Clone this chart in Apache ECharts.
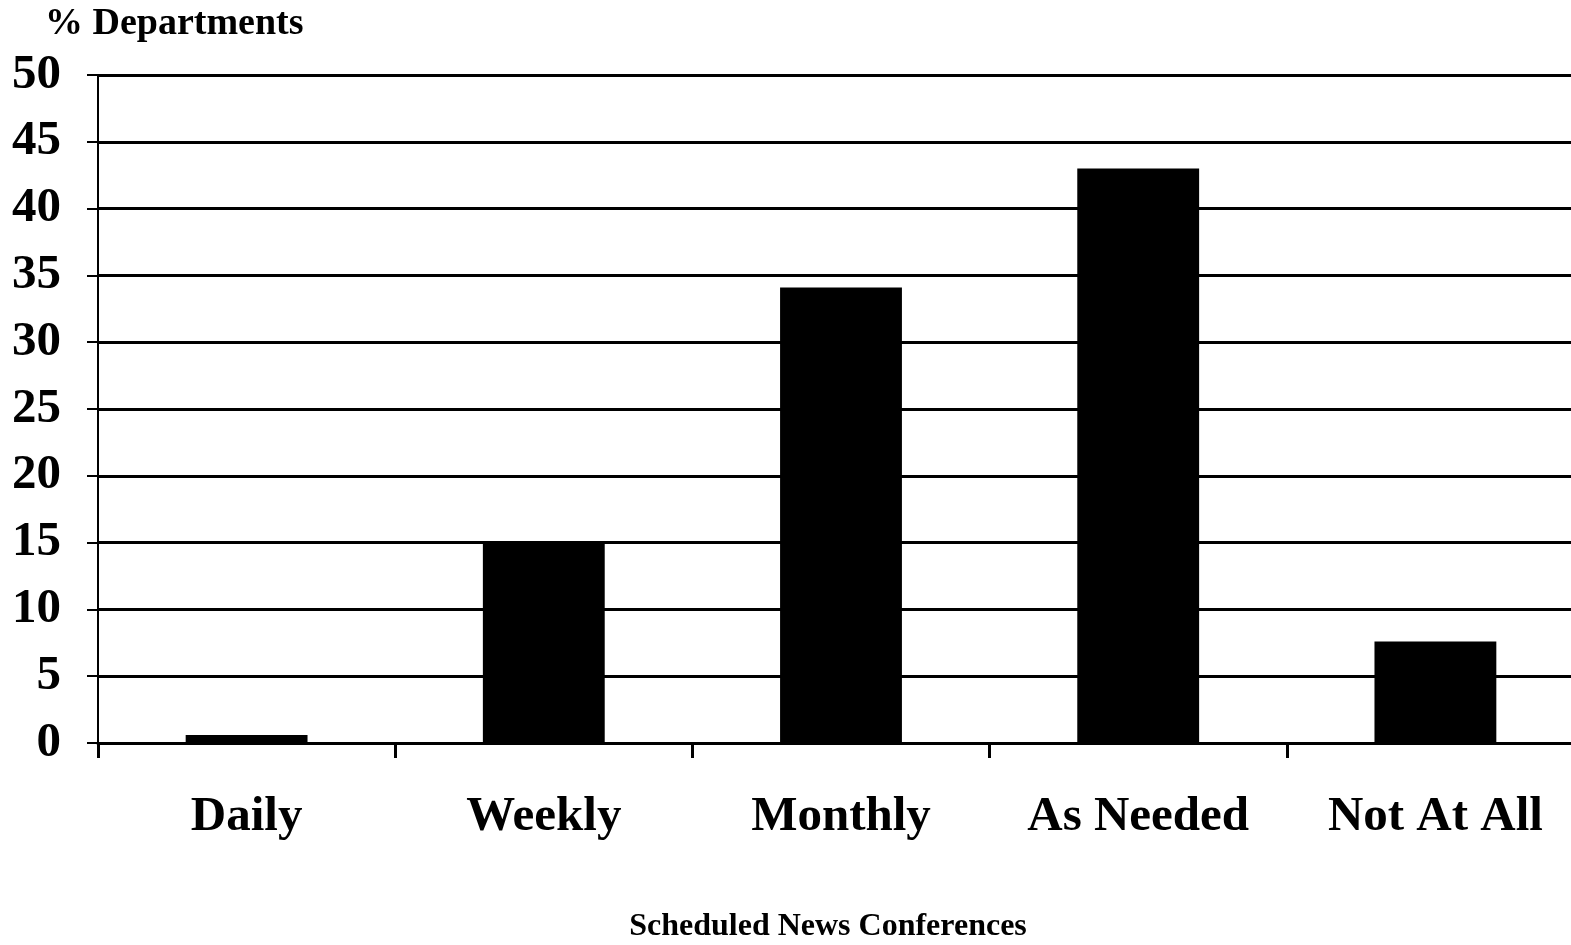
<!DOCTYPE html>
<html>
<head>
<meta charset="utf-8">
<script src="https://cdn.jsdelivr.net/npm/echarts@6/dist/echarts.min.js"></script>
<style>html,body{margin:0;padding:0;background:#fff;overflow:hidden;}#c{width:1571px;height:945px;}</style>
</head>
<body>
<div id="c"></div>
<script>
const categories = ['Daily', 'Weekly', 'Monthly', 'As Needed', 'Not At All'];
const values = [0.6, 15.0, 34.1, 43.0, 7.6];
const yTicks = [0, 5, 10, 15, 20, 25, 30, 35, 40, 45, 50];
const yTitle = '% Departments';
const xTitle = 'Scheduled News Conferences';

const font = '"Liberation Serif", "Times New Roman", serif';
const chart = echarts.init(document.getElementById('c'), null, {renderer: 'canvas'});
chart.setOption({
  backgroundColor: '#fff',
  animation: false,
  title: [
    {text: yTitle, left: 40, top: 0, textStyle: {fontFamily: font, fontWeight: 'bold', fontSize: 38, color: '#000'}},
    {text: xTitle, left: 823, top: 906, textAlign: 'center', textStyle: {fontFamily: font, fontWeight: 'bold', fontSize: 32, color: '#000'}}
  ],
  grid: {left: 98, top: 75, width: 1486, height: 668, containLabel: false, outerBoundsMode: 'none'},
  xAxis: {
    type: 'category',
    data: categories,
    boundaryGap: true,
    axisLine: {lineStyle: {color: '#000', width: 3}},
    axisTick: {show: true, inside: false, length: 15, alignWithLabel: false, lineStyle: {color: '#000', width: 3}},
    axisLabel: {fontFamily: font, fontWeight: 'bold', fontSize: 49, color: '#000', margin: 50}
  },
  yAxis: {
    type: 'value',
    min: 0, max: 50, interval: 5,
    axisLine: {show: true, lineStyle: {color: '#000', width: 2}},
    axisTick: {show: true, length: 11, lineStyle: {color: '#000', width: 2}},
    splitLine: {show: true, lineStyle: {color: '#000', width: 3}},
    axisLabel: {fontFamily: font, fontWeight: 'bold', fontSize: 49, color: '#000', margin: 37,
      formatter: v => yTicks.includes(v) ? String(v) : ''}
  },
  series: [{
    type: 'bar',
    data: values,
    barWidth: '41%',
    itemStyle: {color: '#000'}
  }]
});
</script>
</body>
</html>
